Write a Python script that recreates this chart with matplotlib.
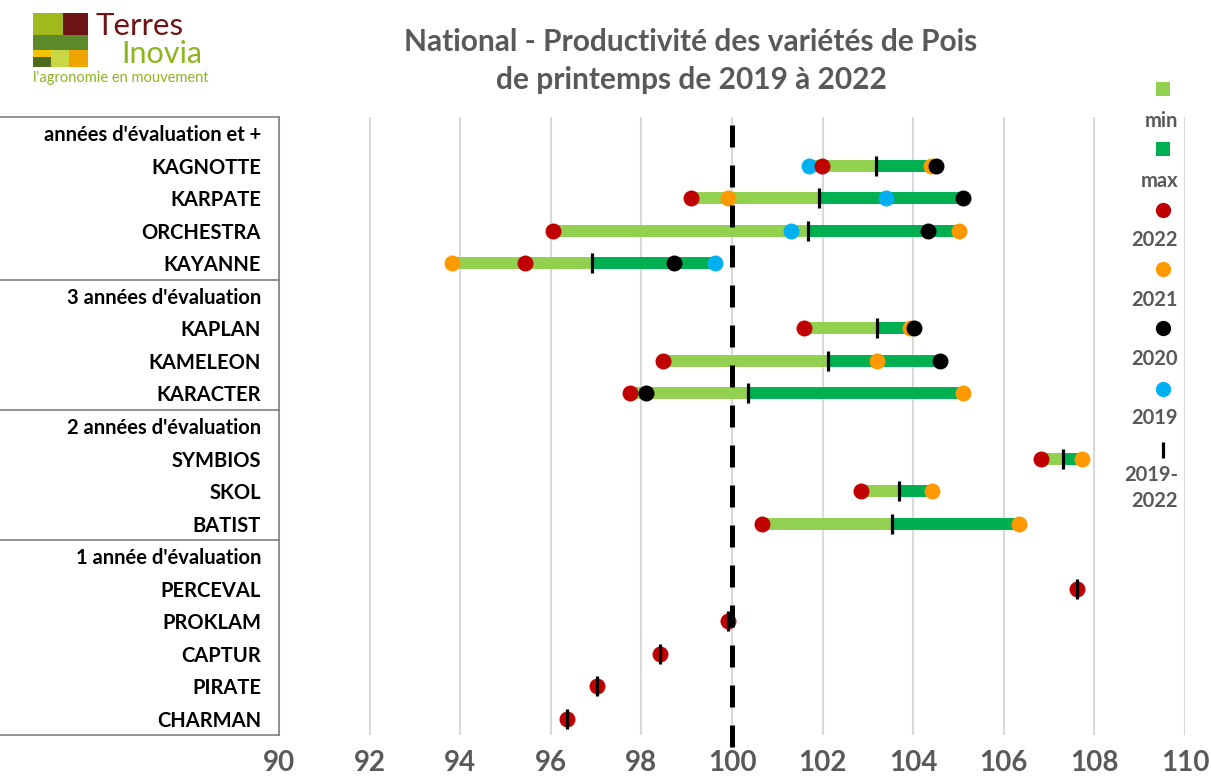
import matplotlib
matplotlib.use("Agg")
import matplotlib.pyplot as plt
import numpy as np
from matplotlib.lines import Line2D
from matplotlib.patches import Rectangle

plt.rcParams['font.family'] = ['Lato', 'DejaVu Sans']

# Data (index 100 = mean of reference varieties)

row_labels = ["années d'évaluation et +", "KAGNOTTE", "KARPATE", "ORCHESTRA", "KAYANNE",
              "3 années d'évaluation", "KAPLAN", "KAMELEON", "KARACTER",
              "2 années d'évaluation", "SYMBIOS", "SKOL", "BATIST",
              "1 année d'évaluation", "PERCEVAL", "PROKLAM", "CAPTUR", "PIRATE", "CHARMAN"]

nan = np.nan
v2022 = [nan, 101.98, 99.09, 96.05, 95.44, nan, 101.60, 98.47, 97.74,
         nan, 106.82, 102.85, 100.66, nan, 107.62, 99.92, 98.42, 97.03, 96.36]
v2021 = [nan, 104.40, 99.92, 105.00, 93.82, nan, 103.93, 103.21, 105.11,
         nan, 107.73, 104.42, 106.34, nan, nan, nan, nan, nan, nan]
v2020 = [nan, 104.51, 105.11, 104.32, 98.71, nan, 104.02, 104.60, 98.11,
         nan, nan, nan, nan, nan, nan, nan, nan, nan, nan]
v2019 = [nan, 101.70, 103.41, 101.30, 99.63, nan, nan, nan, nan,
         nan, nan, nan, nan, nan, nan, nan, nan, nan, nan]
mean_all = [nan, 103.17, 101.91, 101.68, 96.92, nan, 103.20, 102.13, 100.35,
            nan, 107.31, 103.68, 103.54, nan, 107.62, 99.92, 98.42, 97.03, 96.36]

xticks = [90, 92, 94, 96, 98, 100, 102, 104, 106, 108, 110]

# Colours

LIGHT_GREEN = '#92D050'
DARK_GREEN = '#00B050'
RED = '#C00000'
ORANGE = '#FF9900'
BLACK = '#000000'
BLUE = '#00B0F0'
GREY_TXT = '#595959'

W, H = 1211, 779
fig = plt.figure(figsize=(W / 100, H / 100), dpi=100)


def fx(px):
    return px / W


def fy(py):
    return 1 - py / H


ax_left, ax_right, ax_top, ax_bot = 279, 1185, 117, 735
ax = fig.add_axes([fx(ax_left), fy(ax_bot), fx(ax_right - ax_left), (ax_bot - ax_top) / H])

y = np.arange(len(row_labels))
vals = np.array([v2019, v2020, v2021, v2022], dtype=float)
vmin = np.nanmin(np.where(np.isnan(vals), np.inf, vals), axis=0)
vmax = np.nanmax(np.where(np.isnan(vals), -np.inf, vals), axis=0)
mean_arr = np.array(mean_all)

# Bars min -> mean (light) and mean -> max (dark)

ok = ~np.isnan(mean_arr)
ax.hlines(y[ok], vmin[ok], mean_arr[ok], color=LIGHT_GREEN, lw=8.6, zorder=2)
ax.hlines(y[ok], mean_arr[ok], vmax[ok], color=DARK_GREEN, lw=8.6, zorder=2)

# Yearly points

ms = 11.5
ax.plot(v2019, y, 'o', color=BLUE, ms=ms, mew=0, zorder=3)
ax.plot(v2021, y, 'o', color=ORANGE, ms=ms, mew=0, zorder=4)
ax.plot(v2022, y, 'o', color=RED, ms=ms, mew=0, zorder=5)
ax.plot(v2020, y, 'o', color=BLACK, ms=ms, mew=0, zorder=6)

# Mean 2019-2022

ax.plot(mean_all, y, '|', color=BLACK, ms=15, mew=2.3, zorder=7)

# Reference line at 100

ax.plot([100, 100], [-0.25, 19.0], color=BLACK, lw=3.6, linestyle=(0, (4.4, 3.6)),
        zorder=8, clip_on=False)

# Axes styling

ax.set_xlim(90, 110)
ax.set_ylim(len(row_labels) - 0.5, -0.5)
ax.set_xticks(xticks)
ax.set_xticklabels([str(t) for t in xticks], fontsize=20, fontweight='bold', color=GREY_TXT)
ax.set_yticks(y)
ax.set_yticklabels(row_labels, fontsize=14.5, fontweight='bold', color='black')
ax.tick_params(axis='x', length=0, pad=11)
ax.tick_params(axis='y', length=0, pad=13)
ax.grid(axis='x', color='#D9D9D9', lw=1.5, zorder=0)
ax.set_axisbelow(True)
for s in ['top', 'right', 'bottom']:
    ax.spines[s].set_visible(False)
ax.spines['left'].set_color('#7F7F7F')
ax.spines['left'].set_linewidth(1.2)

# Group separators in the label table

for b in [-0.5, 4.5, 8.5, 12.5, 18.5]:
    yy = ax.transData.transform((0, b))[1] / fig.dpi / fig.get_size_inches()[1]
    fig.add_artist(Line2D([0.0, fx(ax_left)], [yy, yy], color='#7F7F7F', lw=1.2))

# Title

fig.text(fx(691), fy(61), "National - Productivité des variétés de Pois\nde printemps de 2019 à 2022",
         ha='center', va='center', fontsize=21.5, fontweight='bold', color=GREY_TXT,
         linespacing=1.4)

# Legend (marker above label, as in the original)

leg_items = [
    ('s', LIGHT_GREEN, 'min', 89, 121),
    ('s', DARK_GREEN, 'max', 149, 181),
    ('o', RED, '2022', 210, 240),
    ('o', ORANGE, '2021', 269, 300),
    ('o', BLACK, '2020', 328, 359),
    ('o', BLUE, '2019', 389, 418),
    ('|', BLACK, '2019-\n2022', 450, 488),
]
for mk, col, lab, my, ty in leg_items:
    if mk == '|':
        fig.add_artist(Line2D([fx(1163)], [fy(my)], marker='|', color=col, ms=12, mew=2.3, ls='none'))
    else:
        fig.add_artist(Line2D([fx(1163)], [fy(my)], marker=mk, color=col,
                              ms=10 if mk == 's' else 11, mew=0, ls='none'))
    fig.text(fx(1178), fy(ty), lab, ha='right', va='center', fontsize=14.5,
             fontweight='bold', color=GREY_TXT, linespacing=1.35)

# Logo

logo = [
    (33, 13, 30, 22, '#A2B91E'),
    (63, 13, 25, 22, '#6E1417'),
    (33, 35, 55, 15, '#5C8A2A'),
    (33, 50, 18, 7, '#F4C300'),
    (33, 57, 18, 10, '#4D6B1C'),
    (51, 50, 18, 17, '#C9D645'),
    (69, 50, 19, 17, '#F0A500'),
]
for x0, y0, w, h, c in logo:
    fig.add_artist(Rectangle((fx(x0), fy(y0 + h)), w / W, h / H, color=c, lw=0))
fig.text(fx(96), fy(26), "Terres", fontsize=22.5, color='#6E1417', va='center', ha='left')
fig.text(fx(121), fy(54), "Inovia", fontsize=22, color='#8DB51E', va='center', ha='left')
fig.text(fx(33), fy(78), "l'agronomie en mouvement", fontsize=10.5, color='#8DB51E',
         va='center', ha='left')

plt.savefig("out.png", dpi=100)
